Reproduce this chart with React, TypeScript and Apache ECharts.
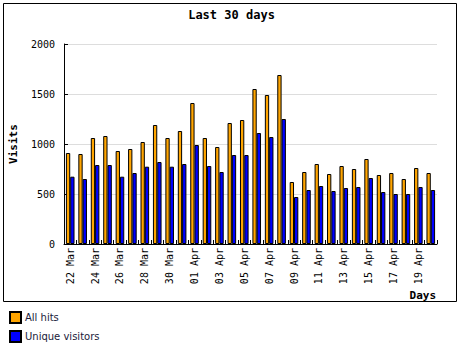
import React, { useEffect, useRef } from "react";
import * as echarts from "echarts";

const days = [
  "22 Mar", "23 Mar", "24 Mar", "25 Mar", "26 Mar", "27 Mar", "28 Mar", "29 Mar", "30 Mar", "31 Mar",
  "01 Apr", "02 Apr", "03 Apr", "04 Apr", "05 Apr", "06 Apr", "07 Apr", "08 Apr", "09 Apr", "10 Apr",
  "11 Apr", "12 Apr", "13 Apr", "14 Apr", "15 Apr", "16 Apr", "17 Apr", "18 Apr", "19 Apr", "20 Apr",
];
const allHits = [
  910, 900, 1060, 1080, 930, 950, 1020, 1190, 1060, 1130,
  1410, 1060, 970, 1210, 1240, 1550, 1490, 1690, 620, 720,
  800, 700, 780, 750, 850, 690, 710, 650, 760, 710,
];
const uniqueVisitors = [
  673, 650, 790, 790, 673, 710, 773, 820, 773, 800,
  990, 780, 720, 890, 890, 1110, 1070, 1250, 470, 540,
  580, 530, 560, 570, 660, 520, 500, 500, 570, 540,
];
const yTicks = { min: 0, max: 2000, interval: 500 };

const mono = "DejaVu Sans Mono";

export default function App() {
  const ref = useRef<HTMLDivElement>(null);
  useEffect(() => {
    const chart = echarts.init(ref.current!, null, { renderer: "svg" });
    chart.setOption({
      animation: false,
      backgroundColor: "#ffffff",
      title: {
        text: "Last 30 days",
        left: "center",
        top: 4,
        textStyle: { fontFamily: mono, fontWeight: "bold", fontSize: 12, color: "#000" },
      },
      legend: {
        orient: "vertical",
        left: 9,
        top: 311,
        padding: 0,
        itemWidth: 11,
        itemHeight: 11,
        itemGap: 6,
        icon: "rect",
        textStyle: { fontFamily: "DejaVu Sans", fontSize: 10, color: "#1a1a3a", padding: [0, 0, 0, -1] },
        data: ["All hits", "Unique visitors"],
      },
      grid: { left: 62, right: 26, top: 44, bottom: 103, containLabel: false },
      xAxis: {
        type: "category",
        data: days,
        axisLine: { lineStyle: { color: "#000", width: 1 } },
        axisTick: { show: true, inside: true, length: 4, interval: 0, lineStyle: { color: "#000" } },
        axisLabel: {
          interval: 1,
          rotate: 90,
          margin: 4,
          fontFamily: mono,
          fontSize: 10,
          color: "#000",
        },
      },
      yAxis: {
        type: "value",
        ...yTicks,
        name: "Visits",
        nameLocation: "middle",
        nameRotate: 90,
        nameGap: 45,
        nameTextStyle: { fontFamily: mono, fontWeight: "bold", fontSize: 11, color: "#000" },
        axisLine: { show: true, lineStyle: { color: "#000", width: 1 } },
        axisTick: { show: true, inside: true, length: 4, lineStyle: { color: "#000" } },
        axisLabel: {
          margin: 9,
          fontFamily: mono,
          fontSize: 10,
          color: "#000",
          formatter: (v: number) => String(v),
        },
        splitLine: { show: true, lineStyle: { color: "#dddddd", width: 1 } },
      },
      series: [
        {
          name: "All hits",
          type: "bar",
          data: allHits,
          barWidth: 4.3,
          barGap: "0%",
          itemStyle: { color: "#FFA500", borderColor: "#000", borderWidth: 1 },
        },
        {
          name: "Unique visitors",
          type: "bar",
          data: uniqueVisitors,
          barWidth: 4.3,
          barGap: "0%",
          itemStyle: { color: "#0000FF", borderColor: "#000", borderWidth: 1 },
        },
      ],
      graphic: [
        {
          type: "rect",
          shape: { x: 3.5, y: 3.5, width: 453, height: 298 },
          style: { fill: "none", stroke: "#000", lineWidth: 1 },
          silent: true,
        },
        {
          type: "text",
          right: 27,
          top: 290,
          style: { text: "Days", fontFamily: mono, fontWeight: "bold", fontSize: 11, fill: "#000" },
        },
      ],
    });
    return () => chart.dispose();
  }, []);
  return (
    <div
      ref={ref}
      style={{ position: "absolute", left: 0, top: 0, width: 463, height: 347 }}
    />
  );
}
